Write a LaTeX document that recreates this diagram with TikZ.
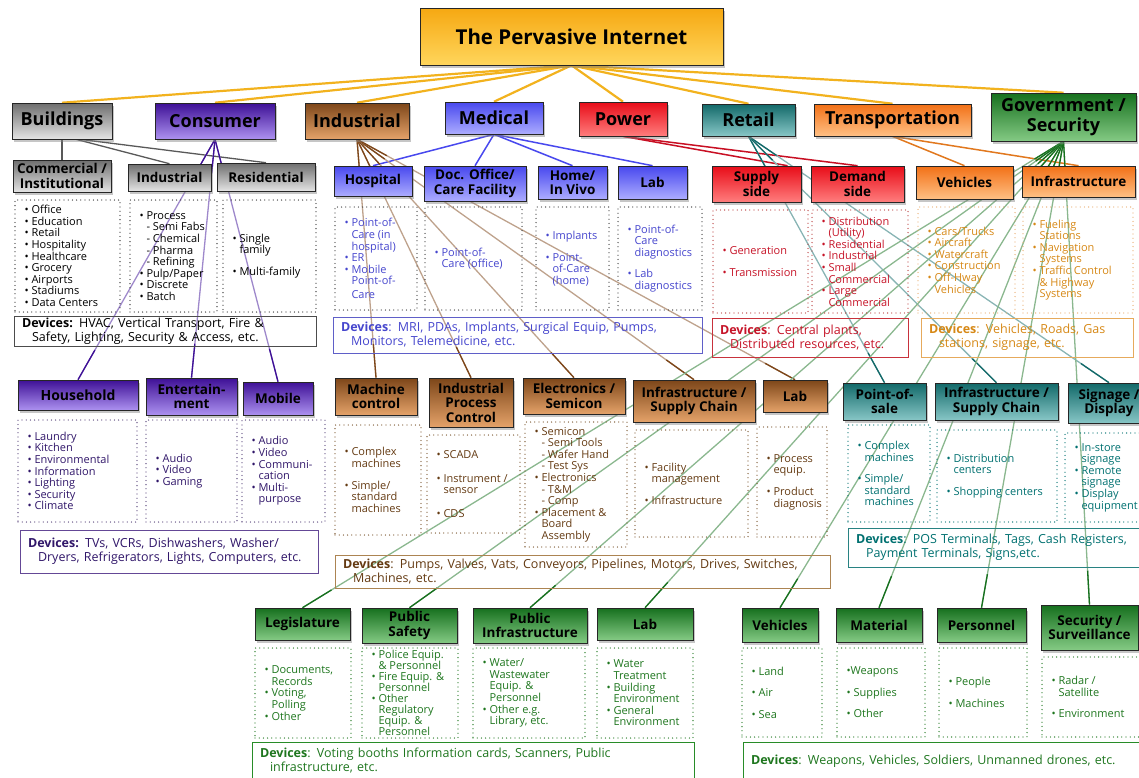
\documentclass[tikz,border=0pt]{standalone}
\usepackage{fontspec}
\setmainfont{Open Sans}
\usetikzlibrary{shadows,backgrounds,calc}
\definecolor{gold}{RGB}{246,168,18}
\definecolor{goldl}{RGB}{255,214,92}
\definecolor{bgray}{RGB}{110,110,110}
\definecolor{bgrayl}{RGB}{228,228,228}
\definecolor{cpur}{RGB}{62,16,150}
\definecolor{cpurl}{RGB}{172,145,240}
\definecolor{ibrn}{RGB}{125,70,25}
\definecolor{ibrnl}{RGB}{228,162,105}
\definecolor{mblu}{RGB}{72,72,238}
\definecolor{mblul}{RGB}{172,172,255}
\definecolor{pred}{RGB}{232,12,24}
\definecolor{predl}{RGB}{255,125,125}
\definecolor{rtel}{RGB}{18,105,105}
\definecolor{rtell}{RGB}{135,198,198}
\definecolor{torg}{RGB}{242,112,22}
\definecolor{torgl}{RGB}{255,192,132}
\definecolor{ggrn}{RGB}{22,112,30}
\definecolor{ggrnl}{RGB}{132,202,132}
% text colours
\definecolor{tpur}{RGB}{48,22,105}
\definecolor{tblu}{RGB}{70,70,205}
\definecolor{tred}{RGB}{198,20,40}
\definecolor{torgt}{RGB}{214,136,22}
\definecolor{tbrn}{RGB}{100,58,18}
\definecolor{ttel}{RGB}{0,112,112}
\definecolor{tgrn}{RGB}{30,118,30}
% border colours
\definecolor{dpur}{RGB}{85,65,120}
\definecolor{dred}{RGB}{185,60,60}
\definecolor{dorg}{RGB}{232,172,112}
\definecolor{dbrn}{RGB}{120,82,42}
\definecolor{vpur}{RGB}{100,72,150}
\definecolor{vblu}{RGB}{95,95,200}
\definecolor{vred}{RGB}{200,50,60}
\definecolor{vorg}{RGB}{230,170,92}
\definecolor{vbrn}{RGB}{172,132,82}
\definecolor{vtel}{RGB}{40,130,130}
\definecolor{vgrn}{RGB}{40,140,40}
% line colours
\definecolor{lgold}{RGB}{242,178,30}
\definecolor{lred}{RGB}{200,15,35}
\definecolor{lorg}{RGB}{225,120,30}

\newcommand\mkbox[6]{\node[#6, minimum width={(#4)-(#2)}, minimum height={(#5)-(#3)}] (#1) at ({((#2)+(#4))/2},{((#3)+(#5))/2})}
% dotted list box: name, x1,y1,x2,y2, border colour, text options, text
\newcommand\mklist[8]{\mkbox{#1}{#2}{#3}{#4}{#5}{dbox=#6}{};
  \node[ltext, text=#7] (#1T) at ([xshift=10pt]#1.west) {#8};}
\newcommand\bul{\textbullet\ }
\newcommand\hin{\phantom{\textbullet\ }}
\newcommand\fline[3]{%
  \draw[lnk, draw=#1!50!white] (#2) -- (#3);
  \draw[lnk, draw=#1] (#2) -- ($(#2)!34pt!(#3)$);
  \draw[lnk, draw=#1] ($(#3)!34pt!(#2)$) -- (#3);}

\tikzset{
  cbox/.style={draw=black!85, line width=0.6pt, top color=#1, bottom color=#1l,
    drop shadow={opacity=0.45, shadow xshift=2pt, shadow yshift=-2.5pt},
    align=center, inner sep=1pt, text=black, font=\bfseries\fontsize{13.5}{14.5}\selectfont},
  topbox/.style={cbox=#1, font=\bfseries\fontsize{18}{19.5}\selectfont},
  dbox/.style={draw=#1, line width=1.3pt, line cap=round, dash pattern=on 0pt off 4.2pt,
    inner sep=0pt},
  ltext/.style={anchor=west, align=left, inner sep=0pt, font=\fontsize{11}{11.6}\selectfont},
  devbox/.style={draw=#1, line width=0.8pt, align=left, inner xsep=8pt, inner ysep=2pt,
    font=\fontsize{12.5}{14}\selectfont},
  lnk/.style={line width=1.3pt},
  goldln/.style={draw=lgold, line width=2.2pt},
}

\begin{document}
\begin{tikzpicture}[x=1pt,y=-1pt]
\useasboundingbox (0,0) rectangle (1139,777);

% ---------- title and top level ----------
\mkbox{title}{420}{8}{723}{65}{cbox=gold, font=\bfseries\fontsize{20.5}{23}\selectfont}{The Pervasive Internet};
\mkbox{bld}{12}{103}{112}{139}{topbox=bgray}{Buildings};
\mkbox{cons}{155}{103}{275}{139}{topbox=cpur}{Consumer};
\mkbox{ind}{305}{103}{409}{139}{topbox=ibrn}{Industrial};
\mkbox{med}{445}{102}{543}{134}{topbox=mblu}{Medical};
\mkbox{pow}{579}{102}{667}{136}{topbox=pred}{Power};
\mkbox{ret}{702}{104}{795}{136}{topbox=rtel}{Retail};
\mkbox{trn}{814}{104}{971}{136}{topbox=torg}{Transportation};
\mkbox{gov}{991}{93}{1136}{141}{topbox=ggrn}{Government /\\Security};

% ---------- Buildings ----------
\mkbox{comm}{13}{160}{111}{192}{cbox=bgray}{Commercial /\\Institutional};
\mkbox{bind}{128}{164}{211}{191}{cbox=bgray}{Industrial};
\mkbox{bres}{217}{163}{315}{191}{cbox=bgray}{Residential};
\mklist{commL}{15}{200}{120}{312}{black!80}{black}{\bul Office\\\bul Education\\\bul Retail\\\bul Hospitality\\\bul Healthcare\\\bul Grocery\\\bul Airports\\\bul Stadiums\\\bul Data Centers}
\mklist{bindL}{130}{200}{217}{312}{black!80}{black}{\bul Process\\\hin- Semi Fabs\\\hin- Chemical\\\hin- Pharma\\\hin- Refining\\\bul Pulp/Paper\\\bul Discrete\\\bul Batch}
\mklist{bresL}{223}{200}{316}{312}{black!80}{black}{\bul Single\\\hin family\\[10pt]\bul Multi-family}
\mkbox{bdev}{14}{317}{316}{346}{devbox=black!70, text width=286pt, text=black}{\textbf{Devices:} HVAC, Vertical Transport, Fire \&\\\hspace*{0.8em}Safety, Lighting, Security \& Access, etc.};

% ---------- Medical ----------
\mkbox{hosp}{334}{166}{412}{196}{cbox=mblu}{Hospital};
\mkbox{doc}{424}{166}{526}{201}{cbox=mblu}{Doc. Office/\\Care Facility};
\mkbox{home}{538}{166}{607}{199}{cbox=mblu}{Home/\\In Vivo};
\mkbox{mlab}{618}{166}{687}{199}{cbox=mblu}{Lab};
\mklist{hospL}{335}{207}{417}{310}{black!75}{tblu}{\bul Point-of-\\\hin Care (in\\\hin hospital)\\\bul ER\\\bul Mobile\\\hin Point-of-\\[2pt]\hin Care}
\mklist{docL}{425}{207}{522}{310}{black!75}{tblu}{\bul Point-of-\\\hin Care (office)}
\mklist{homeL}{536}{207}{609}{310}{black!75}{tblu}{\bul Implants\\[10pt]\bul Point-\\\hin of-Care\\\hin (home)}
\mklist{mlabL}{618}{207}{702}{310}{black!75}{tblu}{\bul Point-of-\\\hin Care\\\hin diagnostics\\[10pt]\bul Lab\\\hin diagnostics}
\mkbox{mdev}{333}{317}{702}{353}{devbox=vblu, text width=353pt, text=tblu}{\textbf{Devices}: MRI, PDAs, Implants, Surgical Equip, Pumps,\\\hspace*{0.8em}Monitors, Telemedicine, etc.};

% ---------- Power ----------
\mkbox{sup}{712}{166}{801}{202}{cbox=pred}{Supply\\side};
\mkbox{dem}{811}{166}{904}{202}{cbox=pred}{Demand\\side};
\mklist{supL}{713}{210}{808}{313}{dred}{tred}{\bul Generation\\[10pt]\bul Transmission}
\mklist{demL}{812}{210}{908}{313}{dred}{tred}{\bul Distribution\\\hin (Utility)\\\bul Residential\\\bul Industrial\\\bul Small\\\hin Commercial\\\bul Large\\\hin Commercial}
\mkbox{pdev}{712}{318}{908}{357}{devbox=vred, text width=180pt, text=tred}{\textbf{Devices}: Central plants,\\\hspace*{0.8em}Distributed resources, etc.};

% ---------- Transportation ----------
\mkbox{tveh}{916}{166}{1013}{199}{cbox=torg}{Vehicles};
\mkbox{tinf}{1022}{166}{1135}{197}{cbox=torg}{Infrastructure};
\mklist{tvehL}{918}{207}{1015}{313}{dorg}{torgt}{\bul Cars/Trucks\\\bul Aircraft\\\bul Watercraft\\\bul Construction\\\bul Off-Hway\\\hin Vehicles}
\mklist{tinfL}{1023}{207}{1133}{313}{dorg}{torgt}{\bul Fueling\\\hin Stations\\\bul Navigation\\\hin Systems\\\bul Traffic Control\\\hin\& Highway\\\hin Systems}
\mkbox{tdev}{921}{318}{1133}{357}{devbox=vorg, text width=196pt, text=torgt}{\textbf{Devices}: Vehicles, Roads, Gas\\\hspace*{0.8em}stations, signage, etc.};

% ---------- Consumer ----------
\mkbox{hh}{18}{380}{138}{410}{cbox=cpur, font=\bfseries\fontsize{14}{14.5}\selectfont}{Household};
\mkbox{ent}{146}{378}{237}{415}{cbox=cpur}{Entertain-\\ment};
\mkbox{mob}{243}{382}{313}{415}{cbox=cpur}{Mobile};
\mklist{hhL}{18}{420}{137}{522}{dpur}{tpur}{\bul Laundry\\\bul Kitchen\\\bul Environmental\\\bul Information\\\bul Lighting\\\bul Security\\\bul Climate}
\mklist{entL}{146}{420}{237}{522}{dpur}{tpur}{\bul Audio\\\bul Video\\\bul Gaming}
\mklist{mobL}{242}{420}{325}{522}{dpur}{tpur}{\bul Audio\\\bul Video\\\bul Communi-\\\hin cation\\\bul Multi-\\\hin purpose}
\mkbox{cdev}{20}{530}{318}{573}{devbox=vpur, text width=282pt, text=tpur}{\textbf{Devices:} TVs, VCRs, Dishwashers, Washer/\\\hspace*{0.8em}Dryers, Refrigerators, Lights, Computers, etc.};

% ---------- Industrial ----------
\mkbox{mc}{335}{378}{417}{415}{cbox=ibrn}{Machine\\control};
\mkbox{ipc}{429}{378}{513}{427}{cbox=ibrn}{Industrial\\Process\\Control};
\mkbox{elec}{523}{378}{625}{414}{cbox=ibrn}{Electronics /\\Semicon};
\mkbox{iinf}{633}{380}{755}{422}{cbox=ibrn}{Infrastructure /\\Supply Chain};
\mkbox{ilab}{763}{380}{827}{412}{cbox=ibrn}{Lab};
\mklist{mcL}{335}{425}{421}{535}{dbrn}{tbrn}{\bul Complex\\\hin machines\\[10pt]\bul Simple/\\\hin standard\\\hin machines}
\mklist{ipcL}{427}{435}{520}{533}{dbrn}{tbrn}{\bul SCADA\\[12pt]\bul Instrument /\\\hin sensor\\[12pt]\bul CDS}
\mklist{elecL}{525}{422}{627}{547}{dbrn}{tbrn}{\bul Semicon\\\hin- Semi Tools\\\hin- Wafer Hand\\\hin- Test Sys\\\bul Electronics\\\hin- T\&M\\\hin- Comp\\\bul Placement \&\\\hin Board\\\hin Assembly}
\mklist{iinfL}{635}{430}{748}{537}{dbrn}{tbrn}{\bul Facility\\\hin management\\[10pt]\bul Infrastructure}
\mklist{ilabL}{757}{427}{827}{537}{dbrn}{tbrn}{\bul Process\\\hin equip.\\[10pt]\bul Product\\\hin diagnosis}
\mkbox{idev}{335}{555}{830}{588}{devbox=vbrn, text width=479pt, text=tbrn}{\textbf{Devices}: Pumps, Valves, Vats, Conveyors, Pipelines, Motors, Drives, Switches,\\\hspace*{0.8em}Machines, etc.};

% ---------- Retail ----------
\mkbox{pos}{843}{383}{926}{420}{cbox=rtel}{Point-of-\\sale};
\mkbox{rinf}{935}{383}{1058}{420}{cbox=rtel}{Infrastructure /\\Supply Chain};
\mkbox{sign}{1068}{383}{1150}{423}{cbox=rtel}{Signage /\\Display};
\mklist{posL}{848}{425}{930}{522}{ttel}{ttel}{\bul Complex\\\hin machines\\[10pt]\bul Simple/\\\hin standard\\\hin machines}
\mklist{rinfL}{937}{430}{1057}{522}{ttel}{ttel}{\bul Distribution\\\hin centers\\[10pt]\bul Shopping centers}
\mklist{signL}{1065}{433}{1150}{522}{ttel}{ttel}{\bul In-store\\\hin signage\\\bul Remote\\\hin signage\\\bul Display\\\hin equipment}
\mkbox{rdev}{848}{528}{1150}{567}{devbox=vtel, text width=286pt, text=ttel}{\textbf{Devices}: POS Terminals, Tags, Cash Registers,\\\hspace*{0.8em}Payment Terminals, Signs,etc.};

% ---------- Government ----------
\mkbox{leg}{255}{608}{350}{640}{cbox=ggrn}{Legislature};
\mkbox{psf}{362}{608}{457}{643}{cbox=ggrn}{Public\\Safety};
\mkbox{pinf}{473}{608}{587}{643}{cbox=ggrn}{Public\\Infrastructure};
\mkbox{glab}{597}{608}{693}{640}{cbox=ggrn}{Lab};
\mkbox{gveh}{742}{608}{818}{642}{cbox=ggrn}{Vehicles};
\mkbox{mat}{836}{608}{922}{642}{cbox=ggrn}{Material};
\mkbox{pers}{937}{608}{1026}{642}{cbox=ggrn}{Personnel};
\mkbox{sec}{1041}{605}{1138}{650}{cbox=ggrn}{Security /\\Surveillance};
\mklist{legL}{255}{648}{351}{738}{tgrn}{tgrn}{\bul Documents,\\\hin Records\\\bul Voting,\\\hin Polling\\\bul Other}
\mklist{psfL}{362}{648}{458}{738}{tgrn}{tgrn, font=\fontsize{11}{11}\selectfont}{\bul Police Equip.\\\hin\& Personnel\\\bul Fire Equip. \&\\\hin Personnel\\\bul Other\\\hin Regulatory\\\hin Equip. \&\\\hin Personnel}
\mklist{pinfL}{473}{648}{585}{738}{tgrn}{tgrn}{\bul Water/\\\hin Wastewater\\\hin Equip. \&\\\hin Personnel\\\bul Other e.g.\\\hin Library, etc.}
\mklist{glabL}{597}{648}{693}{738}{tgrn}{tgrn}{\bul Water\\\hin Treatment\\\bul Building\\\hin Environment\\\bul General\\\hin Environment}
\mklist{gvehL}{742}{648}{822}{737}{tgrn}{tgrn}{\bul Land\\[10pt]\bul Air\\[10pt]\bul Sea}
\mklist{matL}{837}{648}{925}{737}{tgrn}{tgrn}{\textbullet Weapons\\[10pt]\bul Supplies\\[10pt]\bul Other}
\mklist{persL}{939}{648}{1027}{737}{tgrn}{tgrn}{\bul People\\[10pt]\bul Machines}
\mklist{secL}{1042}{657}{1150}{737}{tgrn}{tgrn}{\bul Radar /\\\hin Satellite\\[10pt]\bul Environment}
\mkbox{gdevA}{252}{742}{694}{780}{devbox=vgrn, text width=426pt, text=tgrn}{\textbf{Devices}: Voting booths Information cards, Scanners, Public\\\hspace*{0.8em}infrastructure, etc.};
\mkbox{gdevB}{743}{742}{1150}{780}{devbox=vgrn, text width=391pt, text=tgrn}{\textbf{Devices}: Weapons, Vehicles, Soldiers, Unmanned drones, etc.};

% ---------- connectors ----------
\begin{pgfonlayer}{background}
  \foreach \t in {bld,cons,ind,med,pow,ret,trn,gov}
    \draw[goldln] (title.south) -- (\t.north);
  \draw[lnk, draw=black!65] (bld.south) -- (comm.north);
  \draw[lnk, draw=black!65] ([xshift=14pt]bld.south) -- (bind.north);
  \draw[lnk, draw=black!65] ([xshift=18pt]bld.south) -- (bres.north);
  \foreach \t in {hosp,doc,home,mlab}
    \draw[line width=1.5pt, draw=mblu] (med.south) -- (\t.north);
  \draw[line width=1.5pt, draw=lred] (pow.south) -- ([xshift=31pt]sup.north);
  \draw[line width=1.5pt, draw=lred] (pow.south) -- (dem.north);
  \draw[line width=1.5pt, draw=lorg] (trn.south) -- (tveh.north);
  \draw[line width=1.5pt, draw=lorg] (trn.south) -- (tinf.north);
  \foreach \t in {hh,ent,mob} {\fline{cpur}{cons.south}{\t.north}}
  \foreach \t in {mc,ipc,elec,iinf,ilab} {\fline{ibrn}{ind.south}{\t.north}}
  \foreach \t in {pos,rinf,sign} {\fline{rtel}{ret.south}{\t.north}}
  \foreach \t in {leg,psf,pinf,glab,gveh,mat,pers,sec} {\fline{ggrn}{gov.south}{\t.north}}
\end{pgfonlayer}
\end{tikzpicture}
\end{document}
